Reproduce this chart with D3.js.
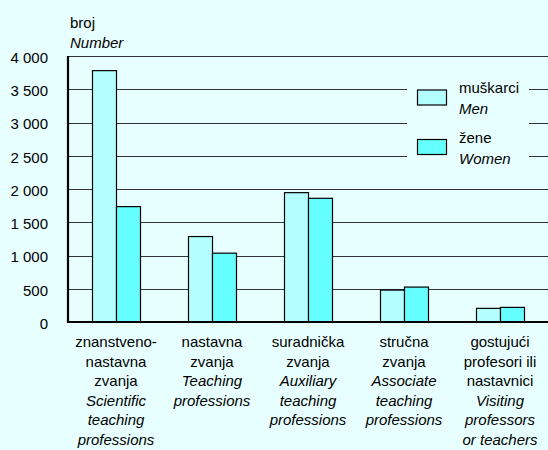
<!DOCTYPE html>
<html>
<head>
<meta charset="utf-8">
<script src="https://cdn.jsdelivr.net/npm/d3@7"></script>
<style>
  body { margin: 0; background: #e8ffff; }
  svg { display: block; font-family: "Liberation Sans", Arial, sans-serif; }
</style>
</head>
<body>
<div id="chart"></div>
<script>
// categories: lines of the label, plain ones first then italic English ones
var categories = ['znanstveno-nastavna', 'nastavna', 'suradnička', 'stručna', 'gostujući'];
var labelLines = [
    ['znanstveno-', 'nastavna', 'zvanja'],
    ['nastavna', 'zvanja'],
    ['suradnička', 'zvanja'],
    ['stručna', 'zvanja'],
    ['gostujući', 'profesori ili', 'nastavnici']
];
var labelLinesEn = [
    ['Scientific', 'teaching', 'professions'],
    ['Teaching', 'professions'],
    ['Auxiliary', 'teaching', 'professions'],
    ['Associate', 'teaching', 'professions'],
    ['Visiting', 'professors', 'or teachers']
];
var men = [3780, 1285, 1945, 480, 205];
var women = [1735, 1035, 1860, 525, 220];
var yTicks = [0, 500, 1000, 1500, 2000, 2500, 3000, 3500, 4000];
var seriesNames = ['muškarci', 'žene'];
var seriesNamesEn = ['Men', 'Women'];

var width = 548, height = 450;
var margin = { top: 56, right: 0, bottom: 128, left: 68 };

var svg = d3.select('#chart').append('svg')
    .attr('width', width)
    .attr('height', height);

svg.append('rect').attr('width', width).attr('height', height).attr('fill', '#e8ffff');

var x = d3.scaleBand()
    .domain(categories)
    .range([margin.left, width - margin.right])
    .paddingInner(0.5)
    .paddingOuter(0.25);

var x1 = d3.scaleBand()
    .domain(['men', 'women'])
    .range([0, x.bandwidth()]);

var y = d3.scaleLinear()
    .domain([0, 4000])
    .range([height - margin.bottom, margin.top]);

var color = { men: '#b3ffff', women: '#66ffff' };

// gridlines
svg.append('g')
    .selectAll('line')
    .data(yTicks.slice(1))
    .enter().append('line')
    .attr('x1', margin.left)
    .attr('x2', width)
    .attr('y1', function (d) { return Math.round(y(d)) + 0.5; })
    .attr('y2', function (d) { return Math.round(y(d)) + 0.5; })
    .attr('stroke', '#333')
    .attr('stroke-width', 1);

// y axis labels
var yAxis = d3.axisLeft(y)
    .tickValues(yTicks)
    .tickSize(0)
    .tickPadding(20)
    .tickFormat(function (d) { return d3.format(',')(d).replace(',', ' '); });

svg.append('g')
    .attr('transform', 'translate(' + margin.left + ',0)')
    .call(yAxis)
    .call(function (g) { g.select('.domain').remove(); })
    .selectAll('text')
    .attr('font-size', '15px')
    .attr('font-family', '"Liberation Sans", Arial, sans-serif')
    .attr('fill', '#000')
    .attr('dy', '0.42em');

// bars
var groups = svg.append('g')
    .selectAll('g')
    .data(categories)
    .enter().append('g')
    .attr('transform', function (d) { return 'translate(' + x(d) + ',0)'; });

groups.selectAll('rect')
    .data(function (d, i) { return [{ key: 'men', v: men[i] }, { key: 'women', v: women[i] }]; })
    .enter().append('rect')
    .attr('x', function (d) { return x1(d.key) + 0.5; })
    .attr('y', function (d) { return y(d.v); })
    .attr('width', x1.bandwidth())
    .attr('height', function (d) { return y(0) - y(d.v); })
    .attr('fill', function (d) { return color[d.key]; })
    .attr('stroke', '#000')
    .attr('stroke-width', 1.2);

// axis lines
svg.append('line')
    .attr('x1', margin.left).attr('x2', margin.left)
    .attr('y1', y(4000)).attr('y2', y(0) + 1)
    .attr('stroke', '#000').attr('stroke-width', 2.2);
svg.append('line')
    .attr('x1', margin.left - 1).attr('x2', width)
    .attr('y1', y(0)).attr('y2', y(0))
    .attr('stroke', '#000').attr('stroke-width', 2.2);

// y title
svg.append('text').attr('x', 70).attr('y', 28).attr('font-size', '15px').text('broj');
svg.append('text').attr('x', 70).attr('y', 48).attr('font-size', '15px')
    .attr('font-style', 'italic').text('Number');

// x labels
var lineH = 19.6;
categories.forEach(function (c, i) {
    var cx = x(c) + x.bandwidth() / 2;
    var t = svg.append('text')
        .attr('text-anchor', 'middle')
        .attr('font-size', '15px');
    var lines = labelLines[i].map(function (s) { return { s: s, it: false }; })
        .concat(labelLinesEn[i].map(function (s) { return { s: s, it: true }; }));
    lines.forEach(function (l, k) {
        t.append('tspan')
            .attr('x', cx)
            .attr('y', 347 + k * lineH)
            .attr('font-style', l.it ? 'italic' : null)
            .text(l.s);
    });
});

// legend
var legend = svg.append('g');
legend.append('rect')
    .attr('x', 407).attr('y', 72)
    .attr('width', 122).attr('height', 100)
    .attr('fill', '#e8ffff');

['men', 'women'].forEach(function (k, i) {
    var top = 90 + i * 49.5;
    legend.append('rect')
        .attr('x', 417.5).attr('y', top)
        .attr('width', 29).attr('height', 15)
        .attr('fill', color[k])
        .attr('stroke', '#000').attr('stroke-width', 1.2);
    legend.append('text').attr('x', 459).attr('y', top + 3)
        .attr('font-size', '15px').text(seriesNames[i]);
    legend.append('text').attr('x', 459).attr('y', top + 24)
        .attr('font-size', '15px').attr('font-style', 'italic').text(seriesNamesEn[i]);
});
</script>
</body>
</html>
